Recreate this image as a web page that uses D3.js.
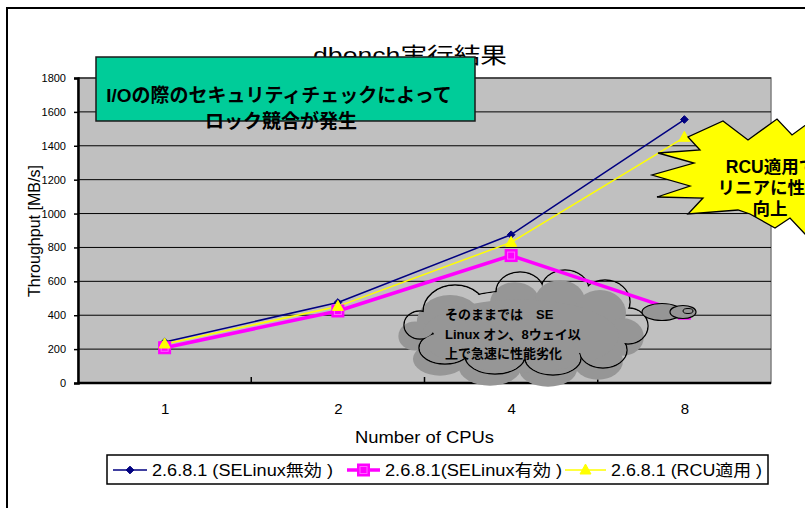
<!DOCTYPE html>
<html><head><meta charset="utf-8">
<script src="https://cdn.jsdelivr.net/npm/d3@7"></script>
<style>
html,body{margin:0;padding:0;background:#fff;}
svg text{font-family:"Liberation Sans","Noto Sans CJK JP",Arial,sans-serif;}
</style></head>
<body>
<svg id="chart" width="805" height="508"></svg>
<script>
const categories = ["1","2","4","8"];
const seriesNames = ["2.6.8.1 (SELinux無効 )","2.6.8.1(SELinux有効 )","2.6.8.1 (RCU適用 )"];
const selinuxOff = [242, 475, 875, 1555];
const selinuxOn  = [208, 425, 752, 412];
const rcu        = [230, 452, 830, 1450];
const yTicks = [0,200,400,600,800,1000,1200,1400,1600,1800];
const titleText = "dbench実行結果";
const xTitle = "Number of CPUs";
const yTitle = "Throughput [MB/s]";
const noteBox = ["I/Oの際のセキュリティチェックによって","ロック競合が発生"];
const noteCloud = ["そのままでは　SE","Linux オン、8ウェイ以","上で急速に性能劣化"];
const noteStar = ["RCU適用で","リニアに性能","向上"];

const svg = d3.select("#chart");
const defs = svg.append("defs");
const plot = {l:78, r:771, t:78, b:383};
const x = d3.scalePoint().domain(categories).range([plot.l, plot.r]).padding(0.5);
const y = d3.scaleLinear().domain([0,1800]).range([plot.b, plot.t]);

// outer frame
svg.append("rect").attr("x",7).attr("y",8).attr("width",900).attr("height",700)
  .attr("fill","#fff").attr("stroke","#000").attr("stroke-width",2);

// title
svg.append("text").attr("x",313).attr("y",63).attr("font-size",22)
  .attr("textLength",194).attr("lengthAdjust","spacingAndGlyphs").text(titleText);

// plot area
svg.append("rect").attr("x",plot.l).attr("y",plot.t).attr("width",plot.r-plot.l).attr("height",plot.b-plot.t)
  .attr("fill","#c0c0c0").attr("stroke","#808080").attr("stroke-width",1.5);

// gridlines
svg.append("g").selectAll("line").data(yTicks.filter(d=>d>0)).join("line")
  .attr("x1",plot.l).attr("x2",plot.r).attr("y1",d=>y(d)).attr("y2",d=>y(d))
  .attr("stroke","#000").attr("stroke-width",1);

// y axis
const yAxis = svg.append("g").attr("transform",`translate(${plot.l},0)`)
  .call(d3.axisLeft(y).tickValues(yTicks).tickFormat(d3.format("d")).tickSize(4).tickPadding(8));
yAxis.select(".domain").attr("stroke-width",2.5);
yAxis.selectAll("text").attr("font-size",11).attr("font-family","Liberation Sans, Arial, sans-serif").attr("fill","#000");
yAxis.selectAll(".tick line").attr("stroke-width",1.5);

// x axis
const band = (plot.r-plot.l)/categories.length;
const xAxis = svg.append("g").attr("transform",`translate(0,${plot.b})`)
  .call(d3.axisBottom(x).tickSize(0).tickPadding(20));
xAxis.select(".domain").attr("stroke-width",2.5).attr("d",`M${plot.l},0H${plot.r}`);
xAxis.selectAll("text").attr("font-size",15).attr("font-family","Liberation Sans, Arial, sans-serif").attr("fill","#000");
svg.append("g").selectAll("line").data(categories.slice(1)).join("line")
  .attr("x1",d=>x(d)-band/2).attr("x2",d=>x(d)-band/2)
  .attr("y1",plot.b).attr("y2",plot.b-6).attr("stroke","#000").attr("stroke-width",1.5);

// axis titles
svg.append("text").attr("x",(plot.l+plot.r)/2).attr("y",443).attr("text-anchor","middle")
  .attr("font-size",16).attr("textLength",139).attr("lengthAdjust","spacingAndGlyphs").text(xTitle);
svg.append("text").attr("transform","translate(40,231) rotate(-90)").attr("text-anchor","middle")
  .attr("font-size",16).attr("textLength",132).attr("lengthAdjust","spacingAndGlyphs").text(yTitle);

// cloud callout body (under the lines)
const cloudFill = "#969696";
const lobes = [
  [455,312,32,27],[520,292,24,20],[565,290,24,20],[605,302,25,22],[628,326,20,18],
  [603,350,24,18],[553,358,28,17],[495,356,30,18],[445,348,26,16],[420,325,16,14],[525,325,95,35]
];
const cg = svg.append("g");
cg.append("g").attr("transform","translate(-5,11)").selectAll("ellipse").data(lobes).join("ellipse")
  .attr("cx",d=>d[0]).attr("cy",d=>d[1]).attr("rx",d=>d[2]*1.04).attr("ry",d=>d[3]*1.04)
  .attr("fill",cloudFill);
const mask = defs.append("mask").attr("id","cloudMask");
mask.append("rect").attr("x",0).attr("y",0).attr("width",805).attr("height",508).attr("fill","#fff");
mask.selectAll("ellipse").data(lobes).join("ellipse")
  .attr("cx",d=>d[0]).attr("cy",d=>d[1]).attr("rx",d=>d[2]-0.7).attr("ry",d=>d[3]-0.7).attr("fill","#000");
cg.append("g").attr("mask","url(#cloudMask)").selectAll("ellipse").data(lobes).join("ellipse")
  .attr("cx",d=>d[0]).attr("cy",d=>d[1]).attr("rx",d=>d[2]).attr("ry",d=>d[3])
  .attr("fill","none").attr("stroke","#000").attr("stroke-width",1.4);

// series
const line = d3.line().x((d,i)=>x(categories[i])).y(d=>y(d));
const series = [
  {name:seriesNames[0], values:selinuxOff, color:"#000080", width:1.5, marker:"diamond"},
  {name:seriesNames[1], values:selinuxOn,  color:"#ff00ff", width:3.5, marker:"square"},
  {name:seriesNames[2], values:rcu,        color:"#ffff00", width:1.5, marker:"triangle"}
];
function drawMarker(g, type, cx, cy, color){
  if(type==="diamond"){
    g.append("path").attr("d",d3.symbol(d3.symbolDiamond2,38)()).attr("transform",`translate(${cx},${cy})`)
      .attr("fill",color).attr("stroke",color).attr("stroke-width",1);
  } else if(type==="square"){
    g.append("rect").attr("x",cx-6).attr("y",cy-6).attr("width",12).attr("height",12)
      .attr("fill","#ff00ff").attr("stroke","#ff00ff").attr("stroke-width",1);
    g.append("rect").attr("x",cx-3.5).attr("y",cy-3.5).attr("width",7).attr("height",7)
      .attr("fill","none").attr("stroke","#ff66ff").attr("stroke-width",1);
  } else {
    g.append("path").attr("d",`M${cx},${cy-6}L${cx+5.5},${cy+4}L${cx-5.5},${cy+4}Z`)
      .attr("fill",color).attr("stroke",color).attr("stroke-width",1);
  }
}
series.forEach(s=>{
  svg.append("path").datum(s.values).attr("d",line).attr("fill","none")
    .attr("stroke",s.color).attr("stroke-width",s.width).attr("stroke-linejoin","round");
});
series.forEach(s=>{
  const g = svg.append("g");
  s.values.forEach((v,i)=>drawMarker(g,s.marker,x(categories[i]),y(v),s.color));
});

// thought bubbles and cloud text
const bg = svg.append("g");
bg.append("ellipse").attr("cx",662).attr("cy",312).attr("rx",20).attr("ry",8.5)
  .attr("fill",cloudFill).attr("stroke","#000").attr("stroke-width",1.2);
bg.append("ellipse").attr("cx",683).attr("cy",312).attr("rx",13).attr("ry",6.5)
  .attr("fill",cloudFill).attr("stroke","#000").attr("stroke-width",1.2);
bg.append("ellipse").attr("cx",688).attr("cy",311).attr("rx",5).attr("ry",2.5)
  .attr("fill","none").attr("stroke","#000").attr("stroke-width",1);
bg.selectAll("text").data(noteCloud).join("text")
  .attr("x",445).attr("y",(d,i)=>319+i*19.5).attr("font-size",13).attr("font-weight","bold")
  .attr("fill","#000").text(d=>d);

// starburst callout
const starPts = [
  [723,121],[748,140],[777,119],[792,135],[818,116],[830,140],[880,135],[860,165],[900,185],
  [855,195],[875,225],[825,210],[805,234],[790,218],[775,228],[750,214],[738,210],[688,214],
  [703,198],[657,197],[690,186],[652,175],[694,163],[658,153],[700,150],[688,137]
];
svg.append("path").attr("d","M"+starPts.map(p=>p.join(",")).join("L")+"Z")
  .attr("fill","#ffff00").attr("stroke","#000").attr("stroke-width",1.3);
svg.append("g").selectAll("text").data(noteStar).join("text")
  .attr("x",(d,i)=>i===0?771:770).attr("y",(d,i)=>173+i*21).attr("text-anchor","middle")
  .attr("font-size",17.5).attr("font-weight","bold").attr("fill","#000").text(d=>d);

// green text box
svg.append("rect").attr("x",96).attr("y",57).attr("width",379).attr("height",64)
  .attr("fill","#00cc99").attr("stroke","#1a1a1a").attr("stroke-width",1.5);
svg.append("g").selectAll("text").data(noteBox).join("text")
  .attr("x",(d,i)=>i===0?279:281).attr("y",(d,i)=>102+i*26).attr("text-anchor","middle")
  .attr("font-size",19).attr("font-weight","bold").attr("fill","#000").text(d=>d);

// legend
const lg = svg.append("g");
lg.append("rect").attr("x",107).attr("y",455).attr("width",661).attr("height",29)
  .attr("fill","#fff").attr("stroke","#000").attr("stroke-width",1.5);
const legendLine = [[113,147],[347,380],[565,606]];
const legendText = [[152,181],[385,177],[611,151]];
series.forEach((s,i)=>{
  const ly = 470;
  const [a,b] = legendLine[i];
  lg.append("line").attr("x1",a).attr("x2",b).attr("y1",ly).attr("y2",ly)
    .attr("stroke",s.color).attr("stroke-width",s.width);
  drawMarker(lg, s.marker, (a+b)/2, ly, s.color);
  lg.append("text").attr("x",legendText[i][0]).attr("y",ly+6).attr("font-size",16)
    .attr("textLength",legendText[i][1]).attr("lengthAdjust","spacingAndGlyphs")
    .attr("fill","#000").text(s.name);
});
</script>
</body></html>
